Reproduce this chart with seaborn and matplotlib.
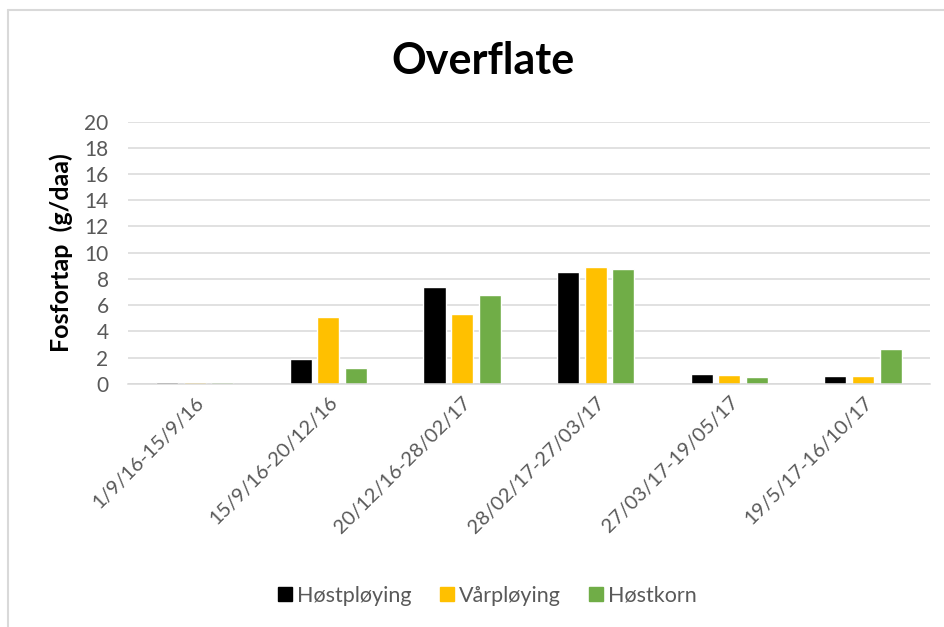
import matplotlib
matplotlib.use("Agg")
import matplotlib.pyplot as plt
from matplotlib.lines import Line2D
import seaborn as sns
import pandas as pd

periods = ["1/9/16-15/9/16", "15/9/16-20/12/16", "20/12/16-28/02/17",
           "28/02/17-27/03/17", "27/03/17-19/05/17", "19/5/17-16/10/17"]
hostploying = [0.18, 1.9, 7.4, 8.5, 0.74, 0.64]
varploying = [0.15, 5.1, 5.35, 8.9, 0.72, 0.62]
hostkorn = [0.15, 1.2, 6.8, 8.75, 0.53, 2.7]
series_names = ["Høstpløying", "Vårpløying", "Høstkorn"]
colors = ["#000000", "#FFC000", "#70AD47"]
yticks = [0, 2, 4, 6, 8, 10, 12, 14, 16, 18, 20]

df = pd.DataFrame({
    "periode": periods * 3,
    "verdi": hostploying + varploying + hostkorn,
    "serie": [series_names[0]] * 6 + [series_names[1]] * 6 + [series_names[2]] * 6,
})

sns.set_style("white")
plt.rcParams["font.family"] = ["Lato", "DejaVu Sans"]

fig = plt.figure(figsize=(9.45, 6.27), dpi=100)
ax = fig.add_axes([0.1354, 0.3876, 0.8486, 0.4186])

sns.barplot(data=df, x="periode", y="verdi", hue="serie", order=periods,
            hue_order=series_names, palette=colors, width=0.62, gap=0.2,
            saturation=1, ax=ax, legend=False)

ax.set_ylim(0, 20)
ax.set_yticks(yticks)
ax.set_xlim(-0.5, len(periods) - 0.5)
ax.yaxis.grid(True, color="#D9D9D9", linewidth=1.1)
ax.set_axisbelow(True)
for side in ["top", "right", "left"]:
    ax.spines[side].set_visible(False)
ax.spines["bottom"].set_color("#D9D9D9")
ax.spines["bottom"].set_linewidth(1.1)

ax.tick_params(axis="y", length=0, labelsize=15, labelcolor="#595959", pad=14)
ax.tick_params(axis="x", length=0, labelsize=14.5, labelcolor="#595959", pad=7)
plt.setp(ax.get_xticklabels(), rotation=45, ha="right", rotation_mode="anchor")
ax.set_xlabel("")
ax.set_ylabel("Fosfortap  (g/daa)", fontsize=18, fontweight="bold",
              color="black", labelpad=8)

fig.text(0.511, 0.902, "Overflate", ha="center", va="center",
         fontsize=31, fontweight="bold", color="black")

handles = [plt.Rectangle((0, 0), 1, 1, color=c) for c in colors]
fig.legend(handles, series_names, loc="center", bbox_to_anchor=(0.516, 0.050),
           ncol=3, frameon=False, fontsize=15.5, handlelength=0.65,
           handleheight=0.65, handletextpad=0.25, columnspacing=1.3,
           labelcolor="#595959")

# light frame along the top and left edge
fig.add_artist(Line2D([8 / 945, 1.0], [1 - 9.5 / 627] * 2, color="#D9D9D9",
                      linewidth=1.5, transform=fig.transFigure))
fig.add_artist(Line2D([8.5 / 945] * 2, [1 - 9.5 / 627, 0.0], color="#D9D9D9",
                      linewidth=1.5, transform=fig.transFigure))

fig.savefig("out.png", dpi=100)
